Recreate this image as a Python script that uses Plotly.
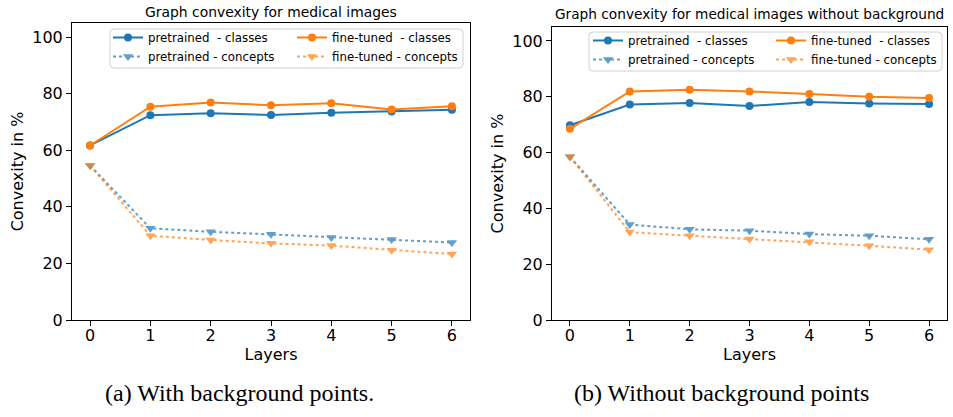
import plotly.graph_objects as go

layers = [0, 1, 2, 3, 4, 5, 6]
x_ticks = [0, 1, 2, 3, 4, 5, 6]
y_ticks = [0, 20, 40, 60, 80, 100]

# (a) with background points
a_pre_classes = [61.7, 72.4, 73.1, 72.5, 73.3, 73.7, 74.3]
a_ft_classes = [61.7, 75.4, 76.9, 75.9, 76.6, 74.4, 75.6]
a_pre_concepts = [54.6, 32.4, 31.2, 30.3, 29.2, 28.5, 27.4]
a_ft_concepts = [54.6, 29.8, 28.3, 27.1, 26.3, 24.7, 23.3]

# (b) without background points
b_pre_classes = [69.8, 77.2, 77.8, 76.7, 78.1, 77.6, 77.4]
b_ft_classes = [68.5, 81.9, 82.5, 81.9, 81.0, 80.0, 79.6]
b_pre_concepts = [58.5, 34.2, 32.5, 32.0, 30.8, 30.2, 28.9]
b_ft_concepts = [58.5, 31.5, 30.2, 29.0, 28.0, 26.6, 25.2]

names = ["pretrained \u00a0- classes", "pretrained - concepts",
         "fine-tuned \u00a0- classes", "fine-tuned - concepts"]
titles = ["Graph convexity for medical images",
          "Graph convexity for medical images without background"]
captions = ["(a) With background points.", "(b) Without background points"]

BLUE = "#1f77b4"
ORANGE = "#ff7f0e"
FONT = "DejaVu Sans"

W, H = 953, 417
ML, MR, MT = 72, 6, 23
MB = H - 320
PW = W - ML - MR
PH = H - MT - MB


def px2x(p):
    return (p - ML) / PW


def px2y(p):
    return (H - MB - p) / PH


fig = go.Figure()

panels = [
    ("x", "y", a_pre_classes, a_pre_concepts, a_ft_classes, a_ft_concepts, "legend", "legend2"),
    ("x2", "y2", b_pre_classes, b_pre_concepts, b_ft_classes, b_ft_concepts, "legend3", "legend4"),
]

for xa, ya, pc, pcon, fc, fcon, lg1, lg2 in panels:
    fig.add_trace(go.Scatter(x=layers, y=pc, name=names[0], xaxis=xa, yaxis=ya, legend=lg1,
                             mode="lines+markers", line=dict(color=BLUE, width=2),
                             marker=dict(symbol="circle", size=8, color=BLUE)))
    fig.add_trace(go.Scatter(x=layers, y=pcon, name=names[1], xaxis=xa, yaxis=ya, legend=lg1,
                             mode="lines+markers", opacity=0.7,
                             line=dict(color=BLUE, width=2, dash="dot"),
                             marker=dict(symbol="triangle-down", size=9, color=BLUE)))
    fig.add_trace(go.Scatter(x=layers, y=fc, name=names[2], xaxis=xa, yaxis=ya, legend=lg2,
                             mode="lines+markers", line=dict(color=ORANGE, width=2),
                             marker=dict(symbol="circle", size=8, color=ORANGE)))
    fig.add_trace(go.Scatter(x=layers, y=fcon, name=names[3], xaxis=xa, yaxis=ya, legend=lg2,
                             mode="lines+markers", opacity=0.7,
                             line=dict(color=ORANGE, width=2, dash="dot"),
                             marker=dict(symbol="triangle-down", size=9, color=ORANGE)))

axis_common = dict(showline=True, linecolor="black", linewidth=1, mirror=True,
                   ticks="outside", ticklen=5, tickwidth=1, tickcolor="black",
                   showgrid=False, zeroline=False,
                   tickfont=dict(family=FONT, size=16, color="black"))

xt = dict(text="Layers", font=dict(family=FONT, size=16), standoff=4)
yt = dict(text="Convexity in %", font=dict(family=FONT, size=16), standoff=4)

fig.update_layout(
    width=W, height=H,
    margin=dict(l=ML, r=MR, t=MT, b=MB),
    paper_bgcolor="white", plot_bgcolor="white",
    font=dict(family=FONT, color="black"),
    showlegend=True,
    xaxis=dict(domain=[0, px2x(470)], range=[-0.3, 6.3], tickvals=x_ticks, anchor="y",
               title=xt, ticklabelstandoff=-4, **axis_common),
    yaxis=dict(domain=[0, 1], range=[0, 105], tickvals=y_ticks, anchor="x",
               title=yt, **axis_common),
    xaxis2=dict(domain=[px2x(552), 1], range=[-0.3, 6.3], tickvals=x_ticks, anchor="y2",
                title=xt, ticklabelstandoff=-4, **axis_common),
    yaxis2=dict(domain=[0, px2y(27)], range=[0, 105], tickvals=y_ticks, anchor="x2",
                title=yt, **axis_common),
)

leg_common = dict(orientation="v", xanchor="left", yanchor="top", xref="paper", yref="paper",
                  bgcolor="rgba(0,0,0,0)", borderwidth=0, tracegroupgap=0,
                  font=dict(family=FONT, size=11.8, color="black"), itemwidth=30)
fig.update_layout(
    legend=dict(x=px2x(108), y=px2y(23), **leg_common),
    legend2=dict(x=px2x(292), y=px2y(23), **leg_common),
    legend3=dict(x=px2x(588), y=px2y(26), **leg_common),
    legend4=dict(x=px2x(771), y=px2y(26), **leg_common),
)


def rounded_box(x0, y0, x1, y1, r=4):
    X = px2x
    Y = px2y
    return (f"M {X(x0 + r)},{Y(y0)} L {X(x1 - r)},{Y(y0)} Q {X(x1)},{Y(y0)} {X(x1)},{Y(y0 + r)} "
            f"L {X(x1)},{Y(y1 - r)} Q {X(x1)},{Y(y1)} {X(x1 - r)},{Y(y1)} "
            f"L {X(x0 + r)},{Y(y1)} Q {X(x0)},{Y(y1)} {X(x0)},{Y(y1 - r)} "
            f"L {X(x0)},{Y(y0 + r)} Q {X(x0)},{Y(y0)} {X(x0 + r)},{Y(y0)} Z")


for box in [(110, 29, 463, 68), (589, 32, 942, 71)]:
    fig.add_shape(type="path", path=rounded_box(*box), xref="paper", yref="paper",
                  line=dict(color="#d0d0d0", width=1), fillcolor="rgba(255,255,255,0.8)",
                  layer="above")

annotations = [
    dict(text=titles[0], x=px2x(271), y=px2y(12), xref="paper", yref="paper",
         showarrow=False, xanchor="center", yanchor="middle",
         font=dict(family=FONT, size=13.9, color="black")),
    dict(text=titles[1], x=px2x(749), y=px2y(14), xref="paper", yref="paper",
         showarrow=False, xanchor="center", yanchor="middle",
         font=dict(family=FONT, size=13.7, color="black")),
    dict(text=captions[0], x=px2x(239), y=px2y(393), xref="paper", yref="paper",
         showarrow=False, xanchor="center", yanchor="middle",
         font=dict(family="Liberation Serif", size=24, color="black")),
    dict(text=captions[1], x=px2x(721), y=px2y(393), xref="paper", yref="paper",
         showarrow=False, xanchor="center", yanchor="middle",
         font=dict(family="Liberation Serif", size=24, color="black")),
]
fig.update_layout(annotations=annotations)

fig.write_html("out.html",
               config={"displayModeBar": False},
               post_script="document.body.style.margin='0';document.body.style.overflow='hidden';")
